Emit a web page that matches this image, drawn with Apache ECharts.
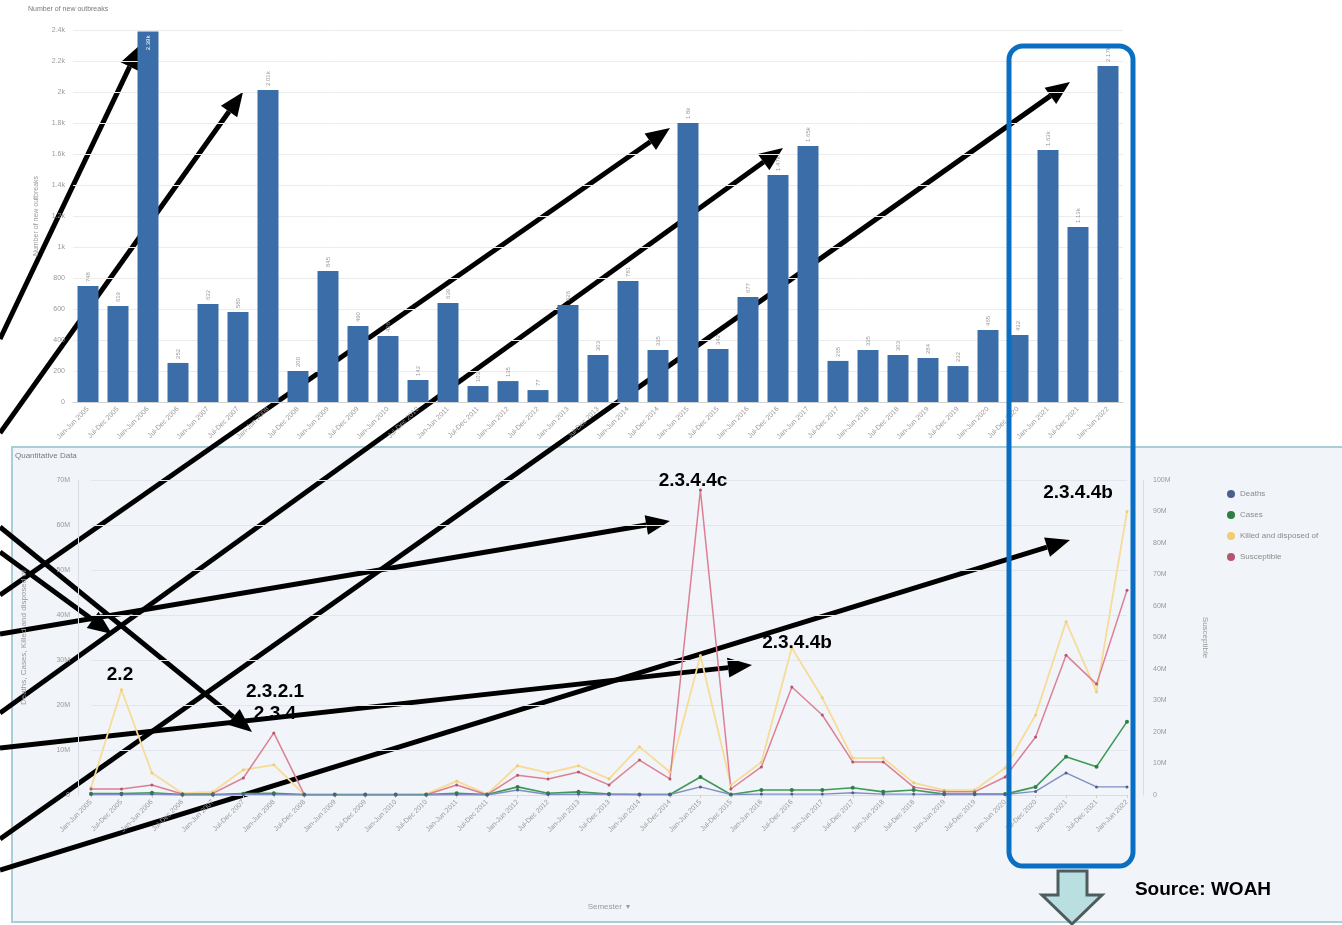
<!DOCTYPE html>
<html>
<head>
<meta charset="utf-8">
<script src="https://cdn.jsdelivr.net/npm/echarts@6/dist/echarts.min.js"></script>
<style>
  html, body { margin: 0; padding: 0; background: #ffffff; }
  #chart { width: 1342px; height: 925px; }
</style>
</head>
<body>
<div id="chart"></div>
<script>
// semesters, Jan-Jun 2005 .. Jan-Jun 2022
const semesters = [
  "Jan-Jun 2005", "Jul-Dec 2005", "Jan-Jun 2006", "Jul-Dec 2006", "Jan-Jun 2007",
  "Jul-Dec 2007", "Jan-Jun 2008", "Jul-Dec 2008", "Jan-Jun 2009", "Jul-Dec 2009",
  "Jan-Jun 2010", "Jul-Dec 2010", "Jan-Jun 2011", "Jul-Dec 2011", "Jan-Jun 2012",
  "Jul-Dec 2012", "Jan-Jun 2013", "Jul-Dec 2013", "Jan-Jun 2014", "Jul-Dec 2014",
  "Jan-Jun 2015", "Jul-Dec 2015", "Jan-Jun 2016", "Jul-Dec 2016", "Jan-Jun 2017",
  "Jul-Dec 2017", "Jan-Jun 2018", "Jul-Dec 2018", "Jan-Jun 2019", "Jul-Dec 2019",
  "Jan-Jun 2020", "Jul-Dec 2020", "Jan-Jun 2021", "Jul-Dec 2021", "Jan-Jun 2022"
];

// number of new outbreaks per semester
const outbreaks = [
  748, 619, 2390, 252, 632, 580, 2013, 200, 845, 490,
  426, 142, 639, 103, 135, 77, 626, 303, 781, 335,
  1800, 342, 677, 1465, 1652, 265, 335, 303, 284, 232,
  465, 432, 1626, 1129, 2168
];

// quantitative data, millions of animals
const deaths = [
  0.1, 0.1, 0.2, 0, 0, 0.1, 0.1, 0, 0, 0,
  0, 0, 0.1, 0, 1.1, 0.1, 0.2, 0.1, 0.1, 0.1,
  1.8, 0.1, 0.2, 0.2, 0.2, 0.5, 0.2, 0.2, 0.1, 0.1,
  0.1, 0.8, 4.9, 1.8, 1.8
];
const cases = [
  0.3, 0.3, 0.5, 0.1, 0.1, 0.3, 0.4, 0.1, 0.1, 0.1,
  0.1, 0.1, 0.4, 0.1, 1.8, 0.4, 0.7, 0.2, 0.1, 0.1,
  4.0, 0.1, 1.1, 1.1, 1.1, 1.6, 0.7, 1.1, 0.2, 0.2,
  0.2, 1.8, 8.5, 6.3, 16.3
];
const killed = [
  1.6, 23.4, 4.9, 0.4, 0.7, 5.6, 6.7, 0.1, 0.1, 0.1,
  0.1, 0.2, 3.1, 0.2, 6.5, 4.9, 6.5, 3.6, 10.7, 5.1,
  31.0, 2.2, 7.3, 32.7, 21.6, 8.2, 8.2, 2.7, 1.1, 1.1,
  6.0, 17.8, 38.5, 22.9, 63.0
];
const susceptible = [
  1.9, 1.9, 3.2, 0.3, 0.5, 5.4, 19.7, 0.1, 0.1, 0.1,
  0.1, 0.1, 3.2, 0.1, 6.3, 5.1, 7.3, 3.2, 11.1, 5.1,
  96.8, 1.9, 8.9, 34.3, 25.4, 10.5, 10.5, 2.5, 1.0, 1.0,
  5.7, 18.4, 44.4, 35.2, 65.0
];

const chart = echarts.init(document.getElementById("chart"));

function kFmt(v) {
  if (v >= 1000) return +(v / 1000).toFixed(2) + "k";
  return String(v);
}
function mFmt(v) {
  return v === 0 ? "0" : v + "M";
}

// thick black annotation arrow
function arrow(x1, y1, x2, y2) {
  const a = Math.atan2(y2 - y1, x2 - x1);
  const L = 24, W = 10;
  const bx = x2 - L * Math.cos(a), by = y2 - L * Math.sin(a);
  const px = -Math.sin(a), py = Math.cos(a);
  return {
    type: "group",
    z: 100,
    children: [
      { type: "line", shape: { x1: x1, y1: y1, x2: bx, y2: by },
        style: { stroke: "#000", lineWidth: 5 } },
      { type: "polygon",
        shape: { points: [[x2, y2], [bx + W * px, by + W * py], [bx - W * px, by - W * py]] },
        style: { fill: "#000" } }
    ]
  };
}
function note(x, y, text) {
  return {
    type: "text", x: x, y: y, z: 90,
    style: { text: text, fill: "#000", font: "bold 19px Arial, 'Liberation Sans', sans-serif",
             align: "center", verticalAlign: "middle" }
  };
}

const axisText = { color: "#9a9a9a", fontSize: 7, fontFamily: "Arial, 'Liberation Sans', sans-serif" };

const option = {
  animation: false,
  textStyle: { fontFamily: "Arial, 'Liberation Sans', sans-serif" },
  grid: [
    { left: 73, right: 219, top: 30, height: 372 },
    { left: 91, right: 215, top: 480, height: 315 }
  ],
  legend: {
    orient: "vertical",
    left: 1222,
    top: 485,
    itemGap: 13,
    itemWidth: 8,
    itemHeight: 8,
    icon: "circle",
    textStyle: { color: "#8a8a8a", fontSize: 8 },
    data: ["Deaths", "Cases", "Killed and disposed of", "Susceptible"]
  },
  xAxis: [
    {
      type: "category", gridIndex: 0, data: semesters,
      axisTick: { show: false },
      axisLine: { lineStyle: { color: "#d0d0d0" } },
      axisLabel: Object.assign({ rotate: 45, margin: 6, interval: 0 }, axisText)
    },
    {
      type: "category", gridIndex: 1, data: semesters, boundaryGap: false,
      axisTick: { show: true, length: 3, lineStyle: { color: "#cfcfcf" } },
      axisLine: { lineStyle: { color: "#d8dde3" } },
      axisLabel: Object.assign({ rotate: 45, margin: 6, interval: 0 }, axisText),
      name: "Semester  \u25BE", nameLocation: "middle", nameGap: 108,
      nameTextStyle: { color: "#9a9a9a", fontSize: 8 }
    }
  ],
  yAxis: [
    {
      type: "value", gridIndex: 0, min: 0, max: 2400, interval: 200,
      axisLabel: Object.assign({ formatter: kFmt, margin: 8 }, axisText),
      splitLine: { lineStyle: { color: "#ececec" } },
      name: "Number of new outbreaks", nameLocation: "middle", nameGap: 33,
      nameTextStyle: { color: "#9a9a9a", fontSize: 7 }
    },
    {
      type: "value", gridIndex: 1, min: 0, max: 70, interval: 10, offset: 13,
      axisLine: { show: true, lineStyle: { color: "#d8dde3" } },
      axisLabel: Object.assign({ formatter: mFmt, margin: 8 }, axisText),
      splitLine: { lineStyle: { color: "#e3e7ed" } },
      name: "Deaths, Cases, Killed and disposed of", nameLocation: "middle", nameGap: 50,
      nameTextStyle: { color: "#9a9a9a", fontSize: 8 }
    },
    {
      type: "value", gridIndex: 1, position: "right", min: 0, max: 100, interval: 10, offset: 16,
      axisLine: { show: true, lineStyle: { color: "#d8dde3" } },
      axisLabel: Object.assign({ formatter: mFmt, margin: 10 }, axisText),
      splitLine: { show: false },
      name: "Susceptible", nameLocation: "middle", nameGap: 58, nameRotate: -90,
      nameTextStyle: { color: "#9a9a9a", fontSize: 8 }
    }
  ],
  series: [
    {
      type: "bar", xAxisIndex: 0, yAxisIndex: 0, barWidth: 21,
      itemStyle: { color: "#3b6ea8" },
      label: {
        show: true, position: "top", rotate: 90, align: "left", verticalAlign: "middle",
        distance: 4, color: "#9a9a9a", fontSize: 6, formatter: p => kFmt(p.value)
      },
      data: outbreaks.map(v => v > 2300
        ? { value: v, label: { position: "insideTop", align: "right", color: "#ffffff", distance: 4 } }
        : v)
    },
    {
      name: "Killed and disposed of", type: "line", xAxisIndex: 1, yAxisIndex: 1,
      data: killed, symbol: "circle", symbolSize: 3,
      itemStyle: { color: "#f0cd6e" },
      lineStyle: { color: "#f6dc98", width: 1.8 }
    },
    {
      name: "Susceptible", type: "line", xAxisIndex: 1, yAxisIndex: 2,
      data: susceptible, symbol: "circle", symbolSize: 3,
      itemStyle: { color: "#b4566e" },
      lineStyle: { color: "#dd8093", width: 1.5 }
    },
    {
      name: "Cases", type: "line", xAxisIndex: 1, yAxisIndex: 1,
      data: cases, symbol: "circle", symbolSize: 4,
      itemStyle: { color: "#2f7d43" },
      lineStyle: { color: "#3f9a58", width: 1.6 }
    },
    {
      name: "Deaths", type: "line", xAxisIndex: 1, yAxisIndex: 1,
      data: deaths, symbol: "circle", symbolSize: 3,
      itemStyle: { color: "#4a5f8f" },
      lineStyle: { color: "#7f8fc4", width: 1.4 }
    }
  ],
  graphic: {
    elements: [
      // Quantitative Data panel
      { type: "rect", z: -10, silent: true,
        shape: { x: 12, y: 447, width: 1332, height: 475 },
        style: { fill: "#f1f4f8", stroke: "#a9cfd6", lineWidth: 2 } },
      { type: "text", x: 15, y: 452, z: 5,
        style: { text: "Quantitative Data", fill: "#7a7a7a", font: "8px Arial, sans-serif" } },
      { type: "text", x: 28, y: 6, z: 5,
        style: { text: "Number of new outbreaks", fill: "#7a7a7a", font: "7px Arial, sans-serif" } },

      // annotation labels
      note(120, 675, "2.2"),
      note(275, 692, "2.3.2.1"),
      note(275, 714, "2.3.4"),
      note(693, 481, "2.3.4.4c"),
      note(797, 643, "2.3.4.4b"),
      note(1078, 493, "2.3.4.4b"),
      note(1203, 890, "Source: WOAH"),

      // arrows
      arrow(0, 339, 140, 45),
      arrow(0, 433, 243, 92),
      arrow(0, 595, 670, 128),
      arrow(0, 713, 783, 148),
      arrow(0, 839, 1070, 82),
      arrow(0, 634, 670, 521),
      arrow(0, 748, 752, 665),
      arrow(0, 870, 1070, 540),
      arrow(0, 527, 252, 732),
      arrow(0, 552, 112, 634),

      // highlight box
      { type: "rect", z: 95, silent: true,
        shape: { x: 1009, y: 46, width: 124, height: 820, r: 14 },
        style: { fill: "none", stroke: "#0a6fc2", lineWidth: 5 } },
      // down arrow
      { type: "polygon", z: 95, silent: true,
        shape: { points: [[1058, 871], [1087, 871], [1087, 895], [1102, 895], [1072, 924], [1042, 895], [1058, 895]] },
        style: { fill: "#b9dfe1", stroke: "#4e5c5c", lineWidth: 3 } }
    ]
  }
};

chart.setOption(option);
</script>
</body>
</html>
